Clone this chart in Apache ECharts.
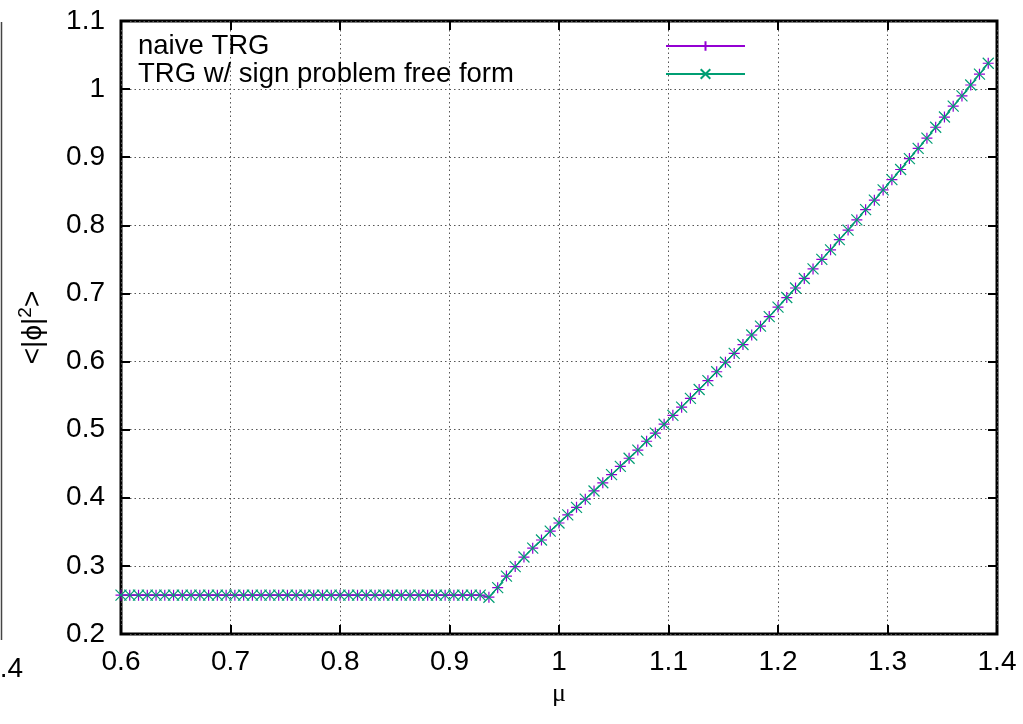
<!DOCTYPE html>
<html>
<head>
<meta charset="utf-8">
<script src="https://cdn.jsdelivr.net/npm/echarts@6/dist/echarts.min.js"></script>
<style>
  html, body { margin: 0; padding: 0; background: #fff; }
  #chart { width: 1023px; height: 724px; }
</style>
</head>
<body>
<div id="chart"></div>
<script>
// chemical potential mu (x)
const mu = [
  0.600, 0.608, 0.616, 0.624, 0.632, 0.640, 0.648, 0.656, 0.664, 0.672,
  0.680, 0.688, 0.696, 0.704, 0.712, 0.720, 0.728, 0.736, 0.744, 0.752,
  0.760, 0.768, 0.776, 0.784, 0.792, 0.800, 0.808, 0.816, 0.824, 0.832,
  0.840, 0.848, 0.856, 0.864, 0.872, 0.880, 0.888, 0.896, 0.904, 0.912,
  0.920, 0.928, 0.936, 0.944, 0.952, 0.960, 0.968, 0.976, 0.984, 0.992,
  1.000, 1.008, 1.016, 1.024, 1.032, 1.040, 1.048, 1.056, 1.064, 1.072,
  1.080, 1.088, 1.096, 1.104, 1.112, 1.120, 1.128, 1.136, 1.144, 1.152,
  1.160, 1.168, 1.176, 1.184, 1.192, 1.200, 1.208, 1.216, 1.224, 1.232,
  1.240, 1.248, 1.256, 1.264, 1.272, 1.280, 1.288, 1.296, 1.304, 1.312,
  1.320, 1.328, 1.336, 1.344, 1.352, 1.360, 1.368, 1.376, 1.384, 1.392
];

// <|phi|^2> from the naive TRG
const naiveTRG = [
  0.257, 0.257, 0.257, 0.257, 0.257, 0.257, 0.257, 0.257, 0.257, 0.257,
  0.257, 0.257, 0.257, 0.257, 0.257, 0.257, 0.257, 0.257, 0.257, 0.257,
  0.257, 0.257, 0.257, 0.257, 0.257, 0.257, 0.257, 0.257, 0.257, 0.257,
  0.257, 0.257, 0.257, 0.257, 0.257, 0.257, 0.257, 0.257, 0.257, 0.257,
  0.257, 0.257, 0.254, 0.268, 0.285, 0.299, 0.313, 0.326, 0.338, 0.351,
  0.363, 0.375, 0.386, 0.398, 0.410, 0.422, 0.434, 0.446, 0.458, 0.470,
  0.483, 0.495, 0.508, 0.521, 0.533, 0.546, 0.559, 0.572, 0.585, 0.599,
  0.612, 0.625, 0.639, 0.652, 0.666, 0.680, 0.694, 0.708, 0.722, 0.736,
  0.750, 0.764, 0.779, 0.793, 0.808, 0.823, 0.837, 0.852, 0.867, 0.882,
  0.898, 0.913, 0.928, 0.944, 0.959, 0.975, 0.990, 1.006, 1.022, 1.038
];

// <|phi|^2> from the TRG with the sign-problem-free form
const signFreeTRG = [
  0.257, 0.257, 0.257, 0.257, 0.257, 0.257, 0.257, 0.257, 0.257, 0.257,
  0.257, 0.257, 0.257, 0.257, 0.257, 0.257, 0.257, 0.257, 0.257, 0.257,
  0.257, 0.257, 0.257, 0.257, 0.257, 0.257, 0.257, 0.257, 0.257, 0.257,
  0.257, 0.257, 0.257, 0.257, 0.257, 0.257, 0.257, 0.257, 0.257, 0.257,
  0.257, 0.257, 0.254, 0.268, 0.285, 0.299, 0.313, 0.326, 0.338, 0.351,
  0.363, 0.375, 0.386, 0.398, 0.410, 0.422, 0.434, 0.446, 0.458, 0.470,
  0.483, 0.495, 0.508, 0.521, 0.533, 0.546, 0.559, 0.572, 0.585, 0.599,
  0.612, 0.625, 0.639, 0.652, 0.666, 0.680, 0.694, 0.708, 0.722, 0.736,
  0.750, 0.764, 0.779, 0.793, 0.808, 0.823, 0.837, 0.852, 0.867, 0.882,
  0.898, 0.913, 0.928, 0.944, 0.959, 0.975, 0.990, 1.006, 1.022, 1.038
];

const seriesNames = ['naive TRG', 'TRG w/ sign problem free form'];
const xTicks = { min: 0.6, max: 1.4, step: 0.1 };
const yTicks = { min: 0.2, max: 1.1, step: 0.1 };

const FONT = 'Liberation Sans, Arial, Helvetica, sans-serif';
const PURPLE = '#9400d3';
const GREEN = '#009e73';
const PLUS = 'path://M0,5L10,5M5,0L5,10';
const CROSS = 'path://M0,0L10,10M0,10L10,0';

const pairs = (xs, ys) => xs.map((x, i) => [x, ys[i]]);
const fmt = v => (Math.abs(v - 1) < 1e-9 ? '1' : String(+v.toFixed(1)));

const gridDash = { color: '#555', width: 1, type: [1.5, 3] };

const baseX = {
  type: 'value', min: xTicks.min, max: xTicks.max, interval: xTicks.step,
  axisLine: { show: false },
  axisTick: { show: true, inside: true, length: 9, lineStyle: { color: '#000', width: 2 } }
};
const baseY = {
  type: 'value', min: yTicks.min, max: yTicks.max, interval: yTicks.step,
  axisLine: { show: false },
  axisTick: { show: true, inside: true, length: 9, lineStyle: { color: '#000', width: 2 } }
};

const option = {
  animation: false,
  backgroundColor: '#fff',
  grid: {
    left: 121, right: 26, top: 21, bottom: 90,
    show: true, borderColor: '#000', borderWidth: 3, backgroundColor: 'transparent'
  },
  legend: {
    orient: 'vertical', left: 138, top: 32, padding: 0, itemGap: 0,
    align: 'right', itemWidth: 79, itemHeight: 12,
    data: seriesNames,
    formatter: name => '{t|' + name + '}',
    textStyle: {
      color: '#000', fontFamily: FONT, fontSize: 27.5,
      rich: { t: { width: 523, align: 'left', fontSize: 27.5, lineHeight: 29.5, fontFamily: FONT, color: '#000' } }
    }
  },
  xAxis: [
    Object.assign({}, baseX, {
      position: 'bottom',
      name: 'μ', nameLocation: 'middle', nameGap: 37,
      nameTextStyle: { fontFamily: 'Liberation Serif, Times New Roman, serif', fontSize: 26, color: '#000' },
      axisLabel: { show: true, margin: 14, fontFamily: FONT, fontSize: 28, color: '#000', formatter: fmt },
      splitLine: { show: true, lineStyle: gridDash }
    }),
    Object.assign({}, baseX, {
      position: 'top', axisLabel: { show: false }, splitLine: { show: false }
    })
  ],
  yAxis: [
    Object.assign({}, baseY, {
      position: 'left',
      name: '<|ϕ|{sup|2}>', nameLocation: 'middle', nameGap: 70, nameRotate: 90,
      nameTextStyle: {
        fontFamily: FONT, fontSize: 28, color: '#000',
        rich: { sup: { fontSize: 19, fontFamily: FONT, color: '#000', padding: [0, 0, 16, 0] } }
      },
      axisLabel: { show: true, margin: 16, fontFamily: FONT, fontSize: 28, color: '#000', formatter: fmt },
      splitLine: { show: true, lineStyle: gridDash }
    }),
    Object.assign({}, baseY, {
      position: 'right', axisLabel: { show: false }, splitLine: { show: false }
    })
  ],
  series: [
    {
      name: seriesNames[0], type: 'line', xAxisIndex: 0, yAxisIndex: 0,
      data: pairs(mu, naiveTRG),
      symbol: PLUS, symbolSize: 11, showAllSymbol: true,
      lineStyle: { color: PURPLE, width: 1 },
      itemStyle: { color: PURPLE, borderColor: PURPLE, borderWidth: 1.2 },
      emphasis: { disabled: true }
    },
    {
      name: seriesNames[1], type: 'line', xAxisIndex: 0, yAxisIndex: 0,
      data: pairs(mu, signFreeTRG),
      symbol: CROSS, symbolSize: 11, showAllSymbol: true,
      lineStyle: { color: GREEN, width: 1.2 },
      itemStyle: { color: GREEN, borderColor: GREEN, borderWidth: 1.2 },
      emphasis: { disabled: true }
    }
  ],
  graphic: [
    // edge of the neighbouring panel at the far left
    { type: 'line', shape: { x1: 1.5, y1: 22, x2: 1.5, y2: 640 }, style: { stroke: '#444', lineWidth: 1.5 } },
    { type: 'text', x: 23, y: 669, style: { text: '1.4', fontFamily: FONT, fontSize: 28, fill: '#000', align: 'right', verticalAlign: 'middle' } }
  ]
};

const chart = echarts.init(document.getElementById('chart'), null, { renderer: 'canvas' });
chart.setOption(option);
</script>
</body>
</html>
